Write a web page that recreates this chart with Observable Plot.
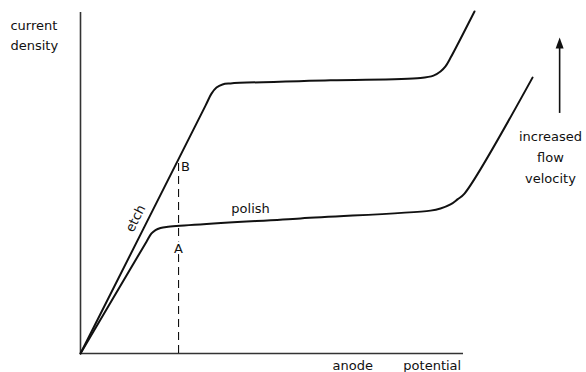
<!DOCTYPE html>
<html>
<head>
<meta charset="utf-8">
<script src="https://cdn.jsdelivr.net/npm/d3@7"></script>
<script src="https://cdn.jsdelivr.net/npm/@observablehq/plot@0.6"></script>
<style>
  html, body { margin: 0; padding: 0; background: #fff; }
</style>
</head>
<body>
<div id="chart"></div>
<script>
// Anodic polarisation curves (arbitrary units): current density vs anode potential.
// Higher flow velocity: etching regime, plateau, then transpassive rise.
const fastPotential = [0, 3.264, 3.420, 3.551, 3.708, 3.916, 6.527, 8.877, 9.217, 9.399, 9.530, 9.661, 10.287];
const fastCurrent   = [0, 7.27, 7.62, 7.80, 7.89, 7.92, 8.01, 8.08, 8.15, 8.27, 8.42, 8.67, 10.03];

// Lower flow velocity: polishing plateau at a lower limiting current.
const slowPotential = [0, 1.723, 1.854, 1.958, 2.089, 2.245, 5.744, 9.138, 9.399, 9.661, 9.843, 10.026, 11.802];
const slowCurrent   = [0, 3.28, 3.52, 3.62, 3.68, 3.71, 3.96, 4.19, 4.25, 4.37, 4.52, 4.69, 8.09];

// Operating potential marked by the dashed line (A on the polish curve, B on the etch line).
const operatingPotential = 2.56;
const operatingTop = 5.6;

// Text labels.
const yLabel = "current\ndensity";
const xLabelWords = ["anode", "potential"];
const regimeLabels = ["etch", "polish"];
const pointLabels = ["A", "B"];
const flowLabel = "increased\nflow\nvelocity";

const fast = fastPotential.map((x, i) => ({x, y: fastCurrent[i]}));
const slow = slowPotential.map((x, i) => ({x, y: slowCurrent[i]}));

// Filled, slender arrowhead with its tip at the anchor point.
const arrowHead = {
  draw(ctx) {
    ctx.moveTo(0, 0);
    ctx.lineTo(4, 11);
    ctx.lineTo(-4, 11);
    ctx.closePath();
  }
};

const ink = "#111";
const font = "DejaVu Sans";

const chart = Plot.plot({
  width: 586,
  height: 372,
  marginLeft: 80,
  marginRight: 123,
  marginTop: 12,
  marginBottom: 19,
  x: {domain: [0, 10], axis: null},
  y: {domain: [0, 10], axis: null},
  style: {fontFamily: font, fontSize: "13px", color: ink, background: "#fff"},
  marks: [
    // axes
    Plot.ruleX([0], {y1: 0, y2: 10, stroke: "#333", strokeWidth: 1.6}),
    Plot.ruleY([0], {x1: 0, x2: 10, stroke: "#333", strokeWidth: 1.6}),

    // dashed operating-potential line
    Plot.ruleX([operatingPotential], {y1: 0, y2: operatingTop, stroke: ink, strokeWidth: 1.1, strokeDasharray: "8,5"}),

    // curves
    Plot.line(fast, {x: "x", y: "y", curve: "catmull-rom", stroke: ink, strokeWidth: 2}),
    Plot.line(slow, {x: "x", y: "y", curve: "catmull-rom", stroke: ink, strokeWidth: 2}),

    // A / B labels
    Plot.text([pointLabels[0]], {x: operatingPotential, y: 3.08, text: d => d, fill: ink, stroke: "#fff", strokeWidth: 5, lineAnchor: "middle", fontSize: 13}),
    Plot.text([pointLabels[1]], {x: 2.74, y: 5.48, text: d => d, fill: ink, lineAnchor: "middle", fontSize: 13}),

    // regime labels
    Plot.text([regimeLabels[0]], {x: 1.44, y: 3.96, text: d => d, rotate: -63, fill: ink, fontSize: 13}),
    Plot.text([regimeLabels[1]], {x: 4.44, y: 4.11, text: d => d, lineAnchor: "bottom", fill: ink, fontSize: 13}),

    // axis titles
    Plot.text([yLabel], {x: -1.83, y: 8.91, text: d => d, textAnchor: "start", lineAnchor: "bottom", lineHeight: 1.54, fill: ink, fontSize: 13}),
    Plot.text([xLabelWords[0]], {x: 6.58, y: -0.47, text: d => d, textAnchor: "start", lineAnchor: "bottom", fill: ink, fontSize: 13}),
    Plot.text([xLabelWords[1]], {x: 8.43, y: -0.47, text: d => d, textAnchor: "start", lineAnchor: "bottom", fill: ink, fontSize: 13}),

    // flow-velocity arrow and caption
    Plot.ruleX([12.51], {y1: 7.04, y2: 9.0, stroke: ink, strokeWidth: 1.6}),
    Plot.dot([0], {x: 12.51, y: 9.27, symbol: arrowHead, r: 4, fill: ink, stroke: "none"}),
    Plot.text([flowLabel], {x: 12.27, y: 5.01, text: d => d, textAnchor: "middle", lineAnchor: "bottom", lineHeight: 1.62, fill: ink, fontSize: 13})
  ]
});

document.getElementById("chart").append(chart);
</script>
</body>
</html>
